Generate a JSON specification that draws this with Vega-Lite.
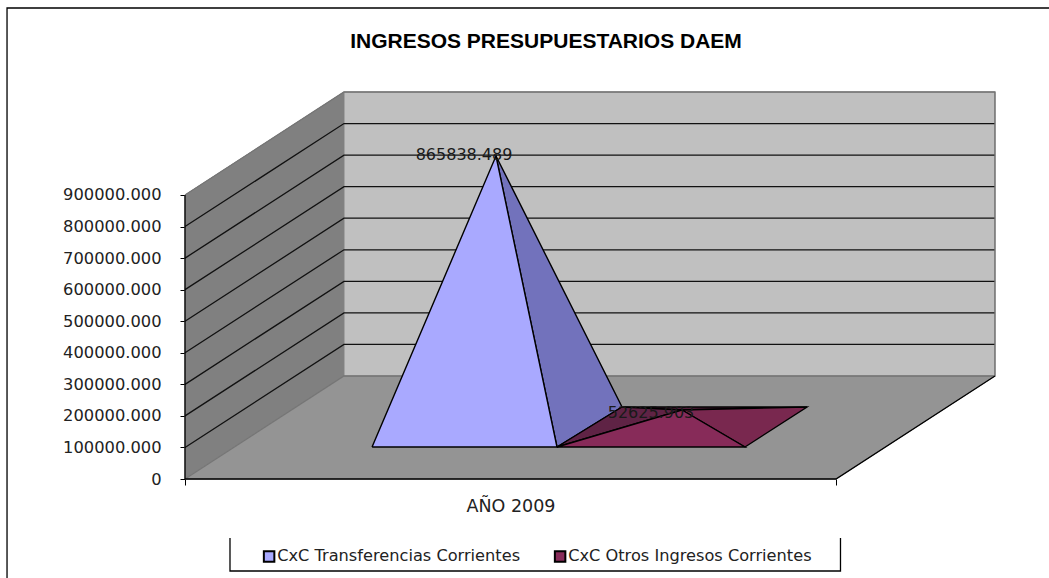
{"$schema":"https://vega.github.io/schema/vega-lite/v6.json","width":1049,"height":578,"padding":0,"autosize":{"type":"none"},"background":"white","config":{"view":{"stroke":null},"font":"DejaVu Sans"},
"title":{"text":"INGRESOS PRESUPUESTARIOS  DAEM","font":"Liberation Sans","fontWeight":"bold","fontSize":21,"color":"#000","anchor":"middle","dx":21.5,"dy":56},
"datasets":{
"walls":[
{"id":"izquierda","i":0,"u":0,"v":0},{"id":"izquierda","i":1,"u":0,"v":900000},{"id":"izquierda","i":2,"u":0.2442,"v":1226407},{"id":"izquierda","i":3,"u":0.2442,"v":326407},
{"id":"fondo","i":0,"u":0.2442,"v":326407},{"id":"fondo","i":1,"u":0.2442,"v":1226407},{"id":"fondo","i":2,"u":1.2442,"v":1226407},{"id":"fondo","i":3,"u":1.2442,"v":326407},
{"id":"piso","i":0,"u":0,"v":0},{"id":"piso","i":1,"u":1,"v":0},{"id":"piso","i":2,"u":1.2442,"v":326407},{"id":"piso","i":3,"u":0.2442,"v":326407}],
"lines":[
{"id":"g1","kind":"grid","i":0,"u":0,"v":100000},{"id":"g1","kind":"grid","i":1,"u":0.2442,"v":426407},{"id":"g1","kind":"grid","i":2,"u":1.2442,"v":426407},
{"id":"g2","kind":"grid","i":0,"u":0,"v":200000},{"id":"g2","kind":"grid","i":1,"u":0.2442,"v":526407},{"id":"g2","kind":"grid","i":2,"u":1.2442,"v":526407},
{"id":"g3","kind":"grid","i":0,"u":0,"v":300000},{"id":"g3","kind":"grid","i":1,"u":0.2442,"v":626407},{"id":"g3","kind":"grid","i":2,"u":1.2442,"v":626407},
{"id":"g4","kind":"grid","i":0,"u":0,"v":400000},{"id":"g4","kind":"grid","i":1,"u":0.2442,"v":726407},{"id":"g4","kind":"grid","i":2,"u":1.2442,"v":726407},
{"id":"g5","kind":"grid","i":0,"u":0,"v":500000},{"id":"g5","kind":"grid","i":1,"u":0.2442,"v":826407},{"id":"g5","kind":"grid","i":2,"u":1.2442,"v":826407},
{"id":"g6","kind":"grid","i":0,"u":0,"v":600000},{"id":"g6","kind":"grid","i":1,"u":0.2442,"v":926407},{"id":"g6","kind":"grid","i":2,"u":1.2442,"v":926407},
{"id":"g7","kind":"grid","i":0,"u":0,"v":700000},{"id":"g7","kind":"grid","i":1,"u":0.2442,"v":1026407},{"id":"g7","kind":"grid","i":2,"u":1.2442,"v":1026407},
{"id":"g8","kind":"grid","i":0,"u":0,"v":800000},{"id":"g8","kind":"grid","i":1,"u":0.2442,"v":1126407},{"id":"g8","kind":"grid","i":2,"u":1.2442,"v":1126407},
{"id":"top","kind":"wall","i":0,"u":0,"v":900000},{"id":"top","kind":"wall","i":1,"u":0.2442,"v":1226407},{"id":"top","kind":"wall","i":2,"u":1.2442,"v":1226407},{"id":"top","kind":"wall","i":3,"u":1.2442,"v":326407},{"id":"top","kind":"wall","i":4,"u":0.2442,"v":326407},{"id":"top","kind":"wall","i":5,"u":0,"v":0},
{"id":"axis","kind":"edge","i":0,"u":0,"v":900000},{"id":"axis","kind":"edge","i":1,"u":0,"v":0},{"id":"axis","kind":"edge","i":2,"u":1,"v":0},{"id":"axis","kind":"edge","i":3,"u":1.2442,"v":326407},
{"id":"frame","kind":"edge","i":0,"u":-0.2734,"v":-313731},{"id":"frame","kind":"edge","i":1,"u":-0.2734,"v":1492599},{"id":"frame","kind":"edge","i":2,"u":1.3272,"v":1492599},
{"id":"box","kind":"edge","i":0,"u":0.0691,"v":-187000},{"id":"box","kind":"edge","i":1,"u":0.0691,"v":-291500},{"id":"box","kind":"edge","i":2,"u":1.0069,"v":-291500},{"id":"box","kind":"edge","i":3,"u":1.0069,"v":-187000}],
"faces":[
{"face":"Transferencias lado","i":0,"u":0.5714,"v":101408},{"face":"Transferencias lado","i":1,"u":0.6713,"v":228168},{"face":"Transferencias lado","i":2,"u":0.4777,"v":1023587},{"face":"Transferencias lado","i":3,"u":0.5714,"v":101408},
{"face":"CxC Transferencias  Corrientes","i":0,"u":0.2873,"v":101408},{"face":"CxC Transferencias  Corrientes","i":1,"u":0.5714,"v":101408},{"face":"CxC Transferencias  Corrientes","i":2,"u":0.4777,"v":1023587},{"face":"CxC Transferencias  Corrientes","i":3,"u":0.2873,"v":101408},
{"face":"Otros fondo","i":0,"u":0.6713,"v":228168},{"face":"Otros fondo","i":1,"u":0.9555,"v":228168},{"face":"Otros fondo","i":2,"u":0.7634,"v":218661},{"face":"Otros fondo","i":3,"u":0.6713,"v":228168},
{"face":"Otros izquierda","i":0,"u":0.5714,"v":101408},{"face":"Otros izquierda","i":1,"u":0.6713,"v":228168},{"face":"Otros izquierda","i":2,"u":0.7634,"v":218661},{"face":"Otros izquierda","i":3,"u":0.5714,"v":101408},
{"face":"Otros derecha","i":0,"u":0.8602,"v":101408},{"face":"Otros derecha","i":1,"u":0.9555,"v":228168},{"face":"Otros derecha","i":2,"u":0.7634,"v":218661},{"face":"Otros derecha","i":3,"u":0.8602,"v":101408},
{"face":"CxC Otros Ingresos  Corrientes","i":0,"u":0.5714,"v":101408},{"face":"CxC Otros Ingresos  Corrientes","i":1,"u":0.8602,"v":101408},{"face":"CxC Otros Ingresos  Corrientes","i":2,"u":0.7634,"v":218661},{"face":"CxC Otros Ingresos  Corrientes","i":3,"u":0.5714,"v":101408}],
"labels":[{"u":0.4286,"v":1026756,"label":"865838.489"},{"u":0.7158,"v":209154,"label":"52625.903"}]
},
"encoding":{
"x":{"field":"u","type":"quantitative","scale":{"domain":[-0.2842,1.3272],"nice":false,"zero":false},
"axis":{"orient":"bottom","offset":-99,"values":[0,0.5,1],"domain":false,"grid":false,"title":null,"tickSize":6,"tickColor":"#000","tickOpacity":{"condition":{"test":"datum.value==0.5","value":0},"value":1},"labelExpr":"datum.value==0.5?'AÑO 2009':''","labelFont":"DejaVu Sans","labelFontSize":17.5,"labelColor":"#222","labelPadding":12}},
"y":{"field":"v","type":"quantitative","scale":{"domain":[-313731,1517951],"nice":false,"zero":false},
"axis":{"orient":"left","offset":-185,"values":[0,100000,200000,300000,400000,500000,600000,700000,800000,900000],"domain":false,"grid":false,"title":null,"tickSize":5,"tickColor":"#000","labelExpr":"datum.value==0?'0':format(datum.value,'.3f')","labelFont":"DejaVu Sans","labelFontSize":16.3,"labelColor":"#222","labelPadding":19}},
"order":{"field":"i","type":"quantitative"}},
"layer":[
{"data":{"name":"walls"},"transform":[{"filter":"datum.id=='izquierda'"}],"mark":{"type":"line","fill":"#808080","stroke":"#808080","strokeWidth":1}},
{"data":{"name":"walls"},"transform":[{"filter":"datum.id=='fondo'"}],"mark":{"type":"line","fill":"#C0C0C0","stroke":"#808080","strokeWidth":1}},
{"data":{"name":"walls"},"transform":[{"filter":"datum.id=='piso'"}],"mark":{"type":"line","fill":"#949494","stroke":"#808080","strokeWidth":1}},
{"data":{"name":"lines"},"mark":{"type":"line","strokeWidth":1.3},"encoding":{"detail":{"field":"id"},"stroke":{"field":"kind","type":"nominal","legend":null,"scale":{"domain":["grid","edge","wall"],"range":["#111111","#000000","#757575"]}}}},
{"data":{"name":"faces"},"mark":{"type":"line","stroke":"#000","strokeWidth":1.4},"encoding":{"fill":{"field":"face","type":"nominal","sort":null,
"scale":{"domain":["CxC Transferencias  Corrientes","CxC Otros Ingresos  Corrientes","Transferencias lado","Otros fondo","Otros izquierda","Otros derecha"],"range":["#A9A9FF","#872B59","#7272BC","#4F1C38","#5F2345","#79284F"]},
"legend":{"values":["CxC Transferencias  Corrientes","CxC Otros Ingresos  Corrientes"],"title":null,"orient":"none","legendX":261,"legendY":548,"direction":"horizontal","columns":2,"symbolType":"square","symbolSize":110,"symbolStrokeColor":"#000","symbolStrokeWidth":2,"labelFont":"DejaVu Sans","labelFontSize":16.2,"labelColor":"#222","labelOffset":0,"labelLimit":400,"columnPadding":24}}}},
{"data":{"name":"labels"},"mark":{"type":"text","font":"DejaVu Sans","fontSize":16,"color":"#1a1a1a","baseline":"middle","align":"center"},"encoding":{"text":{"field":"label"},"order":null}}
]}
